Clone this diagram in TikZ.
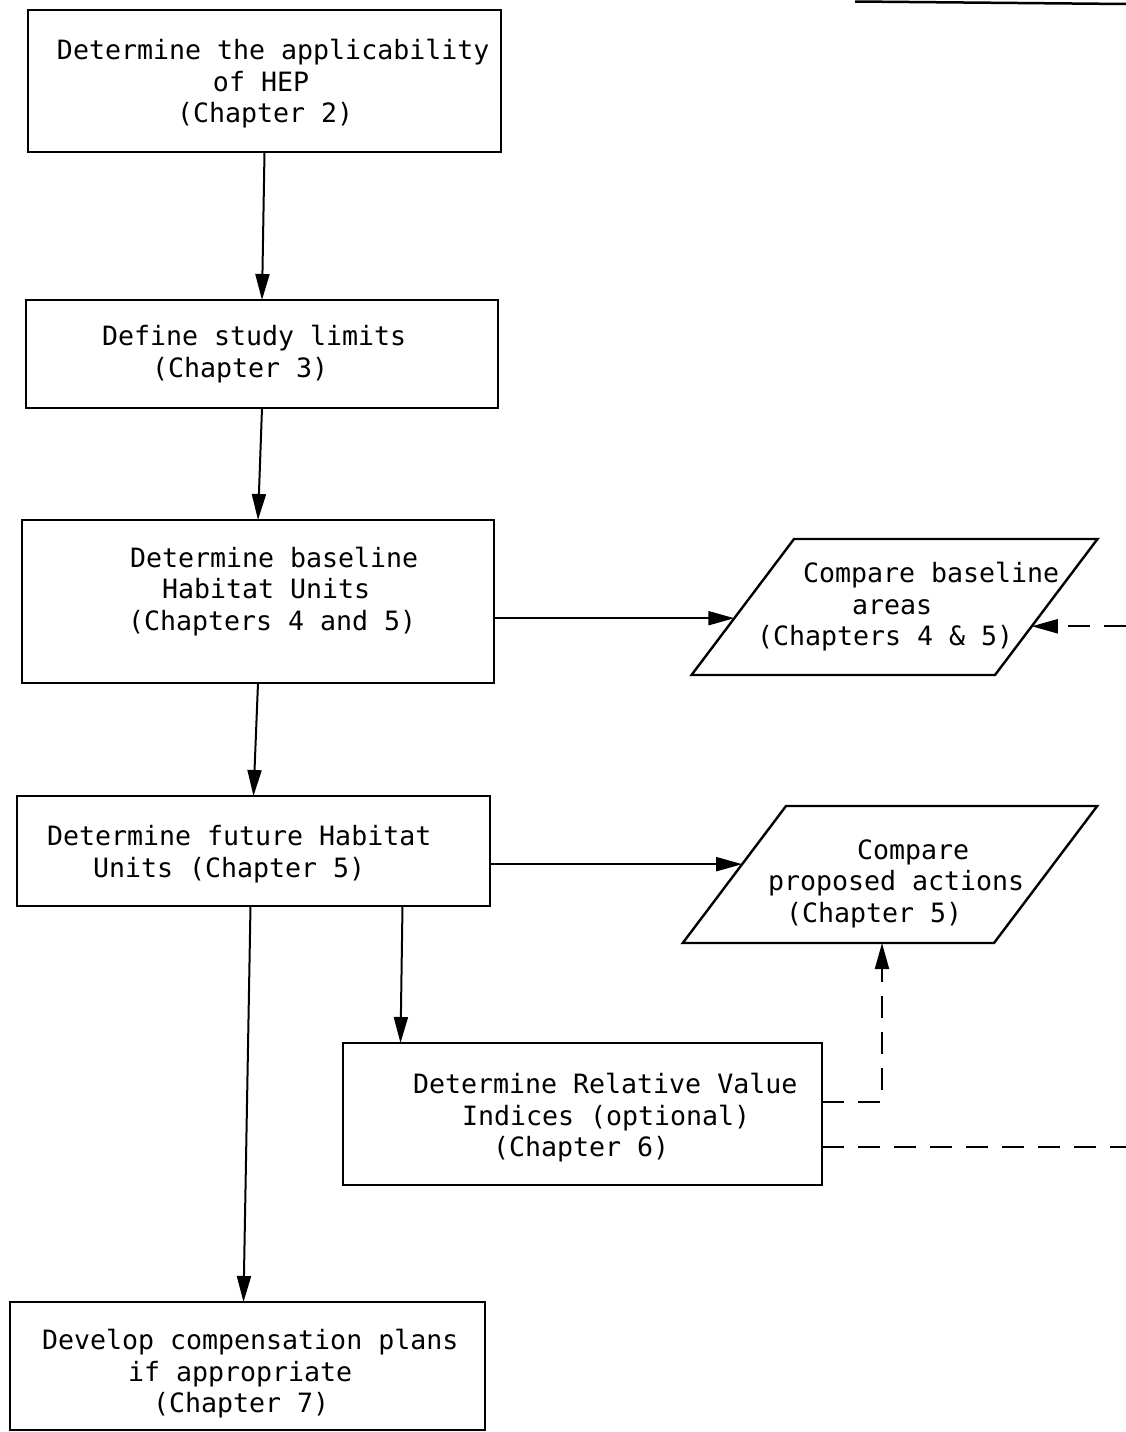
\documentclass[tikz,border=0pt]{standalone}
\usepackage{fontspec}
\setmainfont{DejaVu Sans Mono}
\usetikzlibrary{arrows.meta,shapes.geometric}

% one typed line of a box: a slot of fixed width, the words set in from its left edge
\newcommand\typedline[3]{\makebox[#1pt][l]{\hspace*{#2pt}#3}}
% the typed lines of a box: height, width, vertical nudge (twice the drop), lines
\newcommand\typedblock[4]{\parbox[c][#1pt][c]{#2pt}{\vspace*{#3pt}#4}}

\begin{document}
\begin{tikzpicture}[x=1pt,y=-1pt,
  every node/.style={font=\fontsize{26.6}{31.5}\selectfont, inner sep=0pt, outer sep=0pt},
  stepbox/.style={draw, line width=2.4pt, rectangle},
  iobox/.style={draw, line width=2.4pt, trapezium, trapezium left angle=53,
    trapezium right angle=127},
  flow/.style={line width=2pt, -{Triangle[length=26pt,width=14pt]}},
  dashflow/.style={flow, dash pattern=on 22pt off 14pt},
  dashrule/.style={line width=2pt, dash pattern=on 22pt off 14pt}
]
\useasboundingbox (0,0) rectangle (1126,1432);

% process steps
\node[stepbox, minimum width=473pt] (box1) at (264.5,81)
  {\typedblock{142}{440}{6}{%
   \typedline{440}{12.5}{Determine the applicability}\\
   \typedline{440}{168.5}{of HEP}\\
   \typedline{440}{132.5}{(Chapter 2)}}};
\node[stepbox, minimum width=472pt] (box2) at (262,354)
  {\typedblock{108}{440}{0}{%
   \typedline{440}{60}{Define study limits}\\
   \typedline{440}{110}{(Chapter 3)}}};
\node[stepbox, minimum width=472pt] (box3) at (258,601.5)
  {\typedblock{163}{440}{-20}{%
   \typedline{440}{92}{Determine baseline}\\
   \typedline{440}{124}{Habitat Units}\\
   \typedline{440}{90}{(Chapters 4 and 5)}}};
\node[stepbox, minimum width=473pt] (box4) at (253.5,851)
  {\typedblock{110}{440}{6}{%
   \typedline{440}{13.5}{Determine future Habitat}\\
   \typedline{440}{59.5}{Units (Chapter 5)}}};
\node[stepbox, minimum width=479pt] (box6) at (582.5,1114)
  {\typedblock{142}{440}{8}{%
   \typedline{440}{50.5}{Determine Relative Value}\\
   \typedline{440}{99.5}{Indices (optional)}\\
   \typedline{440}{130.5}{(Chapter 6)}}};
\node[stepbox, minimum width=475pt] (box5) at (247.5,1366)
  {\typedblock{128}{440}{16}{%
   \typedline{440}{14.5}{Develop compensation plans}\\
   \typedline{440}{100.5}{if appropriate}\\
   \typedline{440}{125.5}{(Chapter 7)}}};

% comparisons
\node[iobox] (para1) at (894.5,607)
  {\typedblock{136}{201}{0}{%
   \typedline{201}{9}{Compare baseline}\\
   \typedline{201}{58}{areas}\\
   \typedline{201}{-37}{(Chapters 4 \& 5)}}};
\node[iobox] (para2) at (890,874.5)
  {\typedblock{137}{208}{18}{%
   \typedline{208}{71}{Compare}\\
   \typedline{208}{-18}{proposed actions}\\
   \typedline{208}{0}{(Chapter 5)}}};

% main sequence
\draw[flow] (box1.south) -- (box2.north);
\draw[flow] (box2.south) -- (box3.north);
\draw[flow] (box3.south) -- (box4.north);
\draw[flow] ([xshift=-3pt]box4.south) -- ([xshift=-4pt]box5.north);
\draw[flow] ([xshift=149pt]box4.south) -- ([xshift=-182pt]box6.north);
\draw[flow] (para1.184 -| box3.east) -- (para1.184);
\draw[flow] (para2.176 -| box4.east) -- (para2.176);

% optional links
\coordinate (rim) at (1126,0);
\coordinate (r6) at ([yshift=-33pt]box6.east);
\draw[dashflow] ([yshift=12pt]box6.east) -| ([xshift=-8pt]para2.270);
\draw[dashrule] (r6) -- (r6 -| rim);
\draw[dashflow] (para1.352 -| rim) -- (para1.352);

% rule along the top edge
\draw[line width=2.5pt] (855,1.5) -- (1126,4);
\end{tikzpicture}
\end{document}
